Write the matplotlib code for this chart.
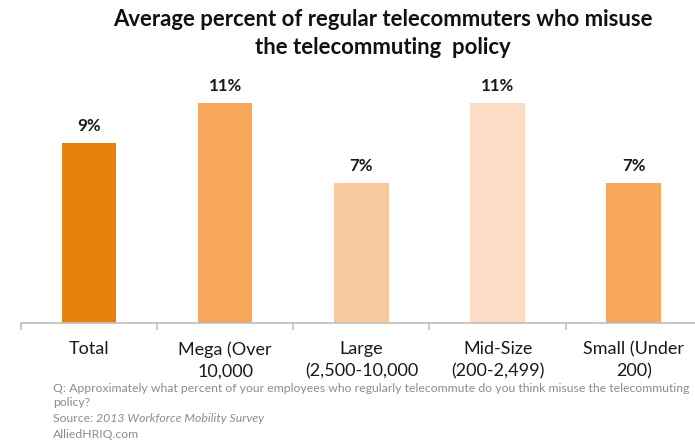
import matplotlib
matplotlib.use("Agg")
import matplotlib.pyplot as plt
from matplotlib.ticker import FixedLocator

categories = ["Total", "Mega (Over\n10,000", "Large\n(2,500-10,000",
              "Mid-Size\n(200-2,499)", "Small (Under\n200)"]
values = [9, 11, 7, 11, 7]
value_labels = ["9%", "11%", "7%", "11%", "7%"]
colors = ["#E8800C", "#F6A75A", "#F9C99E", "#FCDCC4", "#F6A75A"]
tick_marks = [-0.5, 0.5, 1.5, 2.5, 3.5]

plt.rcParams["font.family"] = ["Lato", "DejaVu Sans"]

fig = plt.figure(figsize=(6.95, 4.42), dpi=100)
W, H = 695, 442
x0, x1 = 21, 695
y_base, y_top = 323, 83
ax = fig.add_axes([x0 / W, 1 - y_base / H, (x1 - x0) / W, (y_base - y_top) / H])

xs = list(range(len(values)))
ax.bar(xs, values, width=0.40, color=colors, zorder=2)
for x, v, lab in zip(xs, values, value_labels):
    ax.annotate(lab, (x, v), xytext=(0, 6.5), textcoords="offset points",
                ha="center", va="bottom", fontsize=12.2, fontweight="bold",
                color="#1a1a1a")

ax.set_xlim(-0.5, 4.45)
ax.set_ylim(0, 12)
ax.set_yticks([])
for s in ("left", "right", "top"):
    ax.spines[s].set_visible(False)
ax.spines["bottom"].set_color("#BFBFBF")
ax.spines["bottom"].set_linewidth(1.2)

ax.set_xticks(xs)
ax.set_xticklabels(categories, fontsize=13, color="#1a1a1a", linespacing=1.45)
ax.tick_params(axis="x", which="major", length=0, pad=13)
ax.xaxis.set_minor_locator(FixedLocator(tick_marks))
ax.tick_params(axis="x", which="minor", length=5, width=1.2, color="#BFBFBF",
               direction="out")

fig.text(383 / W, 1 - 20 / H, "Average percent of regular telecommuters who misuse",
         ha="center", va="center", fontsize=15.9, fontweight="bold", color="#111111")
fig.text(383 / W, 1 - 47 / H, "the telecommuting  policy",
         ha="center", va="center", fontsize=15.9, fontweight="bold", color="#111111")

gray = "#8C8C8C"
fs = 8.8
xl = 53 / W
fig.text(xl, 1 - 388 / H,
         "Q: Approximately what percent of your employees who regularly telecommute do you think misuse the telecommuting",
         ha="left", va="center", fontsize=fs, color=gray)
fig.text(xl, 1 - 403 / H, "policy?", ha="left", va="center", fontsize=fs, color=gray)
t = fig.text(xl, 1 - 419 / H, "Source: ", ha="left", va="center", fontsize=fs, color=gray)
fig.canvas.draw()
bb = t.get_window_extent()
fig.text(bb.x1 / W, 1 - 419 / H, "2013 Workforce Mobility Survey", ha="left",
         va="center", fontsize=fs, color=gray, style="italic")
fig.text(xl, 1 - 434 / H, "AlliedHRIQ.com", ha="left", va="center",
         fontsize=fs, color=gray)

fig.savefig("out.png", dpi=100)
